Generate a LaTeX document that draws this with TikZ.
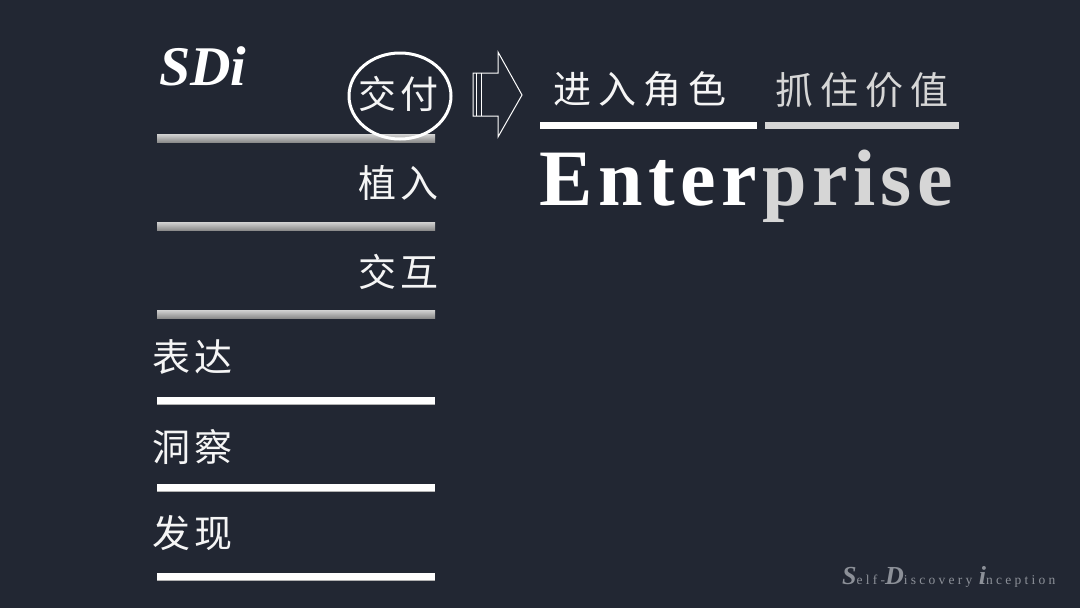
\documentclass[tikz,border=0pt]{standalone}
\usepackage{fontspec}
\setmainfont{Liberation Serif}
\newfontfamily\cjk{Noto Sans CJK SC}
\newfontfamily\footfont[LetterSpace=24]{Liberation Serif}
\definecolor{bg}{RGB}{34,39,51}
\definecolor{lgrey}{RGB}{214,214,214}
\definecolor{bargreyT}{RGB}{210,210,210}
\definecolor{bargreyB}{RGB}{140,140,140}
\definecolor{footgrey}{RGB}{140,144,152}
\newcommand\cg{\hspace{4pt}}
\newcommand\tg{\hspace{7pt}}
\newcommand\ls{\hspace{5.5pt}}
\tikzset{
  cjktext/.style={text=white!92!gray, inner sep=0pt, font=\cjk\fontsize{38}{38}\selectfont},
  greybar/.style={top color=bargreyT, bottom color=bargreyB, draw=none},
  whitebar/.style={fill=white, draw=none},
  outline/.style={draw=white, line width=1pt, line join=miter},
}
\begin{document}
\begin{tikzpicture}[x=1pt,y=-1pt]
\fill[bg] (0,0) rectangle (1080,608);
\useasboundingbox (0,0) rectangle (1080,608);

% SDi title
\node[anchor=base west, inner sep=0pt, text=white, font=\fontsize{56}{56}\selectfont\bfseries\itshape] (sdi) at (159,85) {SDi};

% left column bars
\shade[greybar] (157,134) rectangle (435,142);
\shade[greybar] (157,222) rectangle (435,230);
\shade[greybar] (157,310) rectangle (435,318);
\fill[whitebar] (157,397) rectangle (435,404);
\fill[whitebar] (157,484) rectangle (435,491);
\fill[whitebar] (157,573) rectangle (435,580);
\draw[gray!60, line width=1pt] (157,404) -- (435,404) (157,491) -- (435,491) (157,580) -- (435,580);

% right-aligned labels
\node[cjktext, anchor=base east] (jf) at (439,108) {交\cg 付};
\node[cjktext, anchor=base east] (zr) at (439,197) {植\cg 入};
\node[cjktext, anchor=base east] (jh) at (439,286) {交\cg 互};
% left-aligned labels
\node[cjktext, anchor=base west] (bd) at (152,371) {表\cg 达};
\node[cjktext, anchor=base west] (dc) at (152,461) {洞\cg 察};
\node[cjktext, anchor=base west] (fx) at (152,547) {发\cg 现};

% circle around 交付
\draw[white, line width=3pt] (400,96) ellipse [x radius=51, y radius=43];

% outline arrow
\draw[outline] (481,73) -- (498,73) -- (498,52) -- (522,95) -- (498,137) -- (498,116) -- (473,116) -- (473,73) -- cycle;
\draw[white, line width=0.8pt] (476,73) -- (476,116) (481,73) -- (481,116);

% top right headings
\node[cjktext, anchor=base west] (jr) at (553,103) {进\tg 入\tg 角\tg 色};
\node[cjktext, anchor=base west, text=lgrey] (zz) at (775,104) {抓\tg 住\tg 价\tg 值};
\fill[white] (540,122) rectangle (757,129);
\fill[lgrey] (765,122) rectangle (959,129);

% Enterprise
\node[anchor=base west, inner sep=0pt, text=white, font=\fontsize{80}{80}\selectfont\bfseries] (ent) at (539,205)
  {E\ls n\ls t\ls e\ls r\ls\textcolor{lgrey}{p\ls r\ls i\ls s\ls e}};

% footer
\node[anchor=base west, inner sep=0pt, text=footgrey] (foot) at (842,584)
  {{\fontsize{26}{26}\selectfont\bfseries\itshape S}{\footfont\fontsize{13.5}{13.5}\selectfont elf-}{\fontsize{26}{26}\selectfont\bfseries\itshape D}{\footfont\fontsize{13.5}{13.5}\selectfont iscovery\ }{\fontsize{26}{26}\selectfont\bfseries\itshape i}{\footfont\fontsize{13.5}{13.5}\selectfont nception}};
\end{tikzpicture}
\end{document}
